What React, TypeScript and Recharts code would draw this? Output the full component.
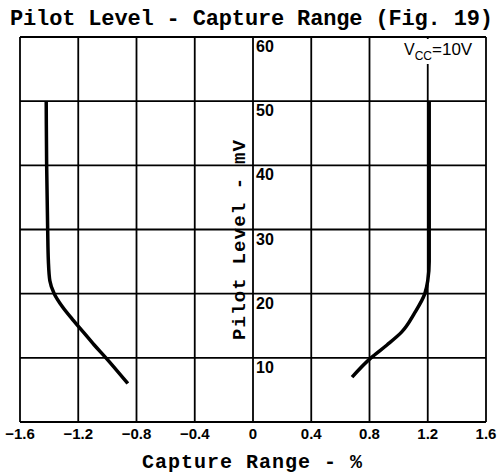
import { LineChart, Line, XAxis, YAxis, CartesianGrid, ReferenceDot, Customized } from 'recharts';

// Pilot level (mV) vs capture range (%)
const leftLevel = [50, 40, 30, 25, 22, 20, 18, 16, 14, 12, 10, 6];
const leftRange = [-1.42, -1.417, -1.41, -1.405, -1.395, -1.365, -1.31, -1.24, -1.165, -1.09, -1.01, -0.86];

const rightLevel = [50, 40, 30, 25, 22, 20, 17, 14, 12, 10, 7];
const rightRange = [1.21, 1.21, 1.21, 1.21, 1.2, 1.18, 1.11, 1.02, 0.92, 0.81, 0.68];

const xTicks = [-1.6, -1.2, -0.8, -0.4, 0, 0.4, 0.8, 1.2, 1.6];
const yTicks = [0, 10, 20, 30, 40, 50, 60];
const yLabels = [10, 20, 30, 40, 50, 60];

const leftPts = leftLevel.map((y, i) => ({ x: leftRange[i], y }));
const rightPts = rightLevel.map((y, i) => ({ x: rightRange[i], y }));

const mono = '"Liberation Mono", monospace';
const sans = '"Liberation Sans", Arial, sans-serif';

const fmt = (v: number) => String(v).replace('-', '\u2212');

function Overlay() {
  return (
    <g>
      <text x={10} y={25} fontFamily={mono} fontWeight="bold" fontSize={22} textLength={483} lengthAdjust="spacing">
        Pilot Level - Capture Range (Fig. 19)
      </text>
      <text x={142} y={468} fontFamily={mono} fontWeight="bold" fontSize={20} textLength={220} lengthAdjust="spacing">
        Capture Range - %
      </text>
      <text
        x={0}
        y={0}
        transform="translate(245 340) rotate(-90)"
        fontFamily={mono}
        fontWeight="bold"
        fontSize={19}
        textLength={200}
        lengthAdjust="spacing"
      >
        Pilot Level - mV
      </text>
      <rect x={399} y={39} width={85} height={25} fill="#fff" />
      <text x={404} y={55} fontFamily={sans} fontSize={16}>
        V
        <tspan fontSize={12} dy={5}>CC</tspan>
        <tspan fontSize={17} dy={-5}>=10V</tspan>
      </text>
    </g>
  );
}

export default function App() {
  return (
    <div style={{ width: 500, height: 475, background: '#fff' }}>
      <style>{'body{margin:0}'}</style>
      <LineChart width={500} height={475} margin={{ top: 37, right: 14, left: 20, bottom: 0 }}>
        <CartesianGrid stroke="#000" strokeWidth={1.8} />
        <XAxis
          type="number"
          dataKey="x"
          domain={[-1.6, 1.6]}
          ticks={xTicks}
          tickFormatter={fmt}
          axisLine={false}
          tickLine={false}
          tickSize={0}
          tickMargin={6}
          height={53}
          interval={0}
          tick={{ fill: '#000', fontSize: 15, fontWeight: 'bold', fontFamily: sans }}
        />
        <YAxis type="number" dataKey="y" domain={[0, 60]} ticks={yTicks} hide />
        {yLabels.map((v) => (
          <ReferenceDot
            key={v}
            x={0}
            y={v}
            r={1}
            fill="none"
            stroke="none"
            label={(p: any) => (
              <text x={p.viewBox.x + 4} y={p.viewBox.y + 16} fontFamily={sans} fontWeight="bold" fontSize={16} fill="#000">
                {v}
              </text>
            )}
          />
        ))}
        <Line data={leftPts} dataKey="y" type="monotoneY" stroke="#000" strokeWidth={3.5} dot={false} isAnimationActive={false} />
        <Line data={rightPts} dataKey="y" type="monotoneY" stroke="#000" strokeWidth={3.5} dot={false} isAnimationActive={false} />
        <Customized component={Overlay} />
      </LineChart>
    </div>
  );
}
